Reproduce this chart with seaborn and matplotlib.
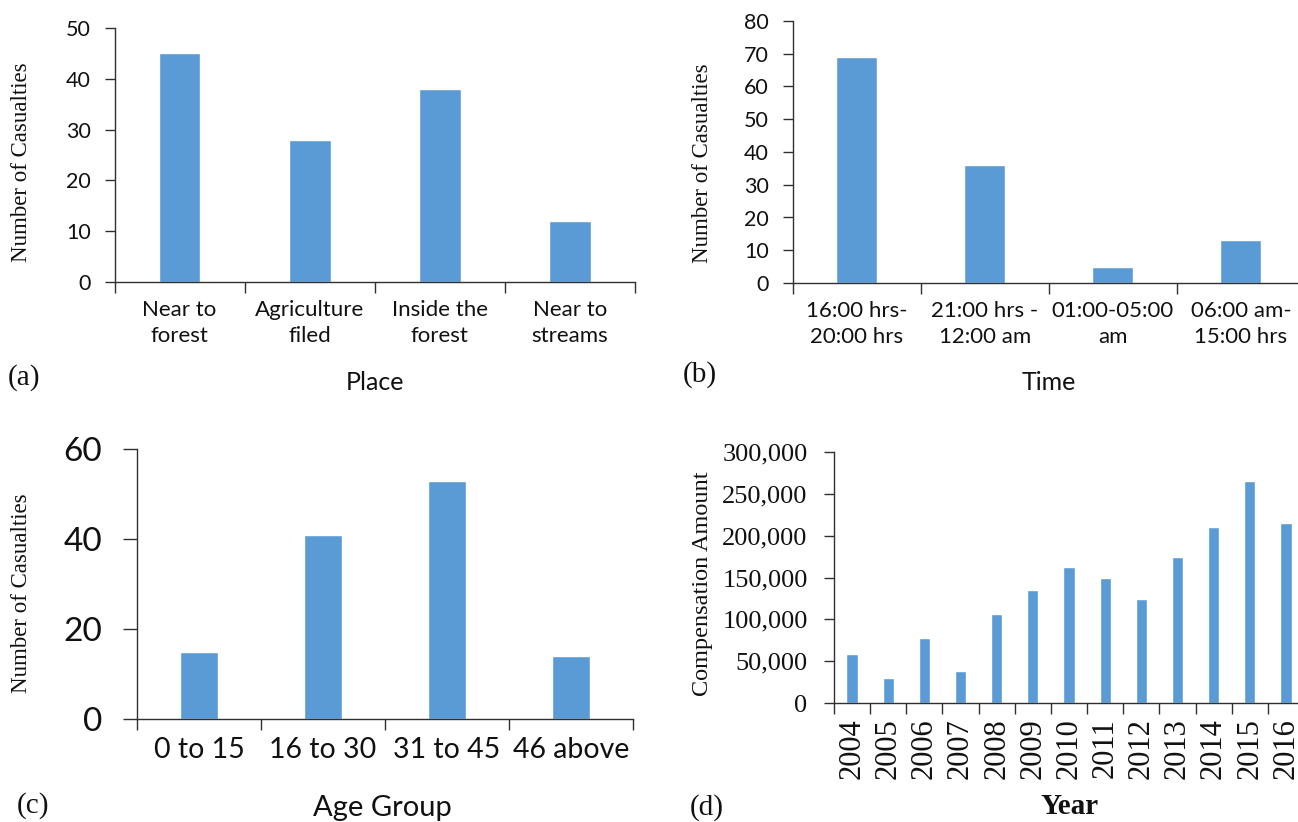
import matplotlib
matplotlib.use('Agg')
import matplotlib.pyplot as plt
from matplotlib.ticker import FixedLocator, FuncFormatter
import seaborn as sns
import pandas as pd

# data
place_labels = ['Near to\nforest', 'Agriculture\nfiled', 'Inside the\nforest', 'Near to\nstreams']
place_values = [45, 28, 38, 12]

time_labels = ['16:00 hrs-\n20:00 hrs', '21:00 hrs -\n12:00 am', '01:00-05:00\nam', '06:00 am-\n15:00 hrs']
time_values = [69, 36, 5, 13]

age_labels = ['0 to 15', '16 to 30', '31 to 45', '46 above']
age_values = [15, 41, 53, 14]

years = ['2004', '2005', '2006', '2007', '2008', '2009', '2010',
         '2011', '2012', '2013', '2014', '2015', '2016']
compensation = [59000, 30000, 78000, 38000, 107000, 135000, 162000,
                150000, 124000, 174000, 210000, 265000, 215000]

BAR = '#5B9BD5'
AXC = '#303030'
TXT = '#111111'
W, H = 1298, 822

sns.set_style('ticks')
plt.rcParams['font.family'] = ['Lato', 'DejaVu Sans']
SERIF = 'Liberation Serif'

fig = plt.figure(figsize=(W / 100, H / 100), dpi=100)


def box(left, right, top, bottom):
    # pixel box -> figure fraction
    return [left / W, 1 - bottom / H, (right - left) / W, (bottom - top) / H]


def panel(rect, cats, vals, ymax, ystep, width, tick_fs, ytick_fs,
          ypad=10, ylen=7, serif=False):
    ax = fig.add_axes(rect)
    df = pd.DataFrame({'cat': cats, 'val': vals})
    sns.barplot(data=df, x='cat', y='val', color=BAR, width=width,
                saturation=1, ax=ax, order=cats)
    n = len(cats)
    ax.set_xlim(-0.5, n - 0.5)
    ax.set_ylim(0, ymax)
    ax.yaxis.set_major_locator(FixedLocator(list(range(0, ymax + 1, ystep))))
    ax.xaxis.set_minor_locator(FixedLocator([i - 0.5 for i in range(n + 1)]))
    ax.tick_params(axis='x', which='major', length=0, pad=13, labelsize=tick_fs)
    ax.tick_params(axis='x', which='minor', length=8, width=1, color=AXC, direction='out')
    ax.tick_params(axis='y', length=ylen, width=1, color=AXC, labelsize=ytick_fs, pad=ypad)
    for s in ['top', 'right']:
        ax.spines[s].set_visible(False)
    for s in ['left', 'bottom']:
        ax.spines[s].set_color(AXC)
        ax.spines[s].set_linewidth(1)
    for lab in ax.get_xticklabels() + ax.get_yticklabels():
        lab.set_color(TXT)
        lab.set_linespacing(1.35)
        if serif:
            lab.set_family(SERIF)
    return ax


# (a) place
ax_a = panel(box(114.5, 635, 28, 282), place_labels, place_values, 50, 10, 0.32, 16, 15.5)
ax_a.set_xlabel('Place', fontsize=18)
ax_a.set_ylabel('Number of Casualties', fontsize=16.5, family=SERIF)
ax_a.xaxis.set_label_coords(0.5, -0.394)
ax_a.yaxis.set_label_coords(-0.178, 0.47)

# (b) time
ax_b = panel(box(792.6, 1305, 21, 283), time_labels, time_values, 80, 10, 0.32, 16, 15.5)
ax_b.set_xlabel('Time', fontsize=18)
ax_b.set_ylabel('Number of Casualties', fontsize=16.5, family=SERIF)
ax_b.xaxis.set_label_coords(0.5, -0.378)
ax_b.yaxis.set_label_coords(-0.175, 0.458)

# (c) age group
ax_c = panel(box(137, 633, 449, 719), age_labels, age_values, 60, 20, 0.30, 20.5, 24,
             ypad=15, ylen=10)
ax_c.set_xlabel('Age Group', fontsize=21)
ax_c.set_ylabel('Number of Casualties', fontsize=16.5, family=SERIF)
ax_c.xaxis.set_label_coords(0.494, -0.33)
ax_c.yaxis.set_label_coords(-0.232, 0.467)

# (d) compensation per year
ax_d = panel(box(834, 1304, 451.7, 703.3), years, compensation, 300000, 50000, 0.31, 22, 19,
             ypad=12, serif=True)
ax_d.yaxis.set_major_formatter(FuncFormatter(lambda v, p: f'{int(v):,}'))
ax_d.tick_params(axis='x', which='major', pad=11, labelrotation=90)
for lab in ax_d.get_yticklabels():
    lab.set_family(SERIF)
ax_d.set_xlabel('Year', fontsize=21, family=SERIF, weight='bold')
ax_d.set_ylabel('Compensation Amount', fontsize=17.5, family=SERIF)
ax_d.xaxis.set_label_coords(0.502, -0.412)
ax_d.yaxis.set_label_coords(-0.279, 0.474)

for ax in [ax_a, ax_b, ax_c, ax_d]:
    ax.xaxis.label.set_va('center')
    ax.yaxis.label.set_va('center')
    ax.xaxis.label.set_color(TXT)
    ax.yaxis.label.set_color(TXT)

# panel letters
for txt, px, py in [('(a)', 8, 378), ('(b)', 683, 375), ('(c)', 17, 806), ('(d)', 690, 808)]:
    fig.text(px / W, 1 - py / H, txt, fontsize=21, family=SERIF, va='center', ha='left',
             color=TXT)

fig.savefig('out.png', dpi=100)
